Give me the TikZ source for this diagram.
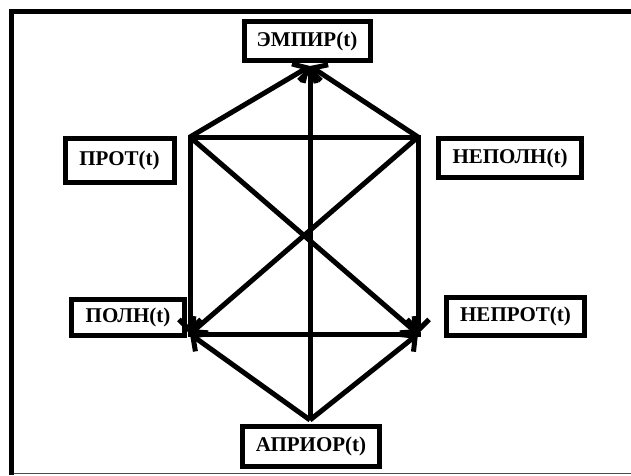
\documentclass[tikz,border=0pt]{standalone}
\usepackage{fontspec}
\setmainfont{Liberation Serif}
\usetikzlibrary{arrows.meta, positioning}

\begin{document}
\begin{tikzpicture}[x=1pt, y=-1pt,
    every node/.style={font=\fontsize{21}{25}\selectfont\bfseries},
    term/.style={rectangle, draw, line width=5pt, inner sep=0pt, align=center},
    edge/.style={line width=5pt, line cap=rect},
    arr/.style={line width=5pt, -{Straight Barb[length=11pt, width=22pt]}}
]
    \useasboundingbox (0,0) rectangle (631,475);
    % frame
    \draw[line width=5pt] (631,11.5) -- (11.5,11.5) -- (11.5,475);
    \draw[line width=1.5pt, black!70] (14,473.5) -- (631,473.5);

    \node[term, minimum width=126pt, minimum height=39pt] (empir)  at (307,41)      {ЭМПИР(t)};
    \node[term, minimum width=109pt, minimum height=44pt] (prot)   at (119.5,160.5) {ПРОТ(t)};
    \node[term, minimum width=143pt, minimum height=39pt] (nepoln) at (510,158)     {НЕПОЛН(t)};
    \node[term, minimum width=113pt, minimum height=36pt] (poln)   at (128,317.5)   {ПОЛН(t)};
    \node[term, minimum width=138pt, minimum height=38pt] (neprot) at (515.5,316.5) {НЕПРОТ(t)};
    \node[term, minimum width=137pt, minimum height=40pt] (aprior) at (311,446.5)   {АПРИОР(t)};

    \coordinate (top) at (310,66);
    \coordinate (ul)  at (190,137);
    \coordinate (ur)  at (418,137);
    \coordinate (ll)  at (190,334);
    \coordinate (lr)  at (418,334);
    \coordinate (bot) at (310,420);

    \draw[edge] (ul) -- (ur);
    \draw[edge] (ll) -- (lr);
    \draw[arr] (ul) -- (top);
    \draw[arr] (ur) -- (top);
    \draw[arr] (bot) -- (top);
    \draw[arr] (ul) -- (ll);
    \draw[arr] (ur) -- (ll);
    \draw[arr] (bot) -- (ll);
    \draw[arr] (ur) -- (lr);
    \draw[arr] (ul) -- (lr);
    \draw[arr] (bot) -- (lr);
\end{tikzpicture}
\end{document}
